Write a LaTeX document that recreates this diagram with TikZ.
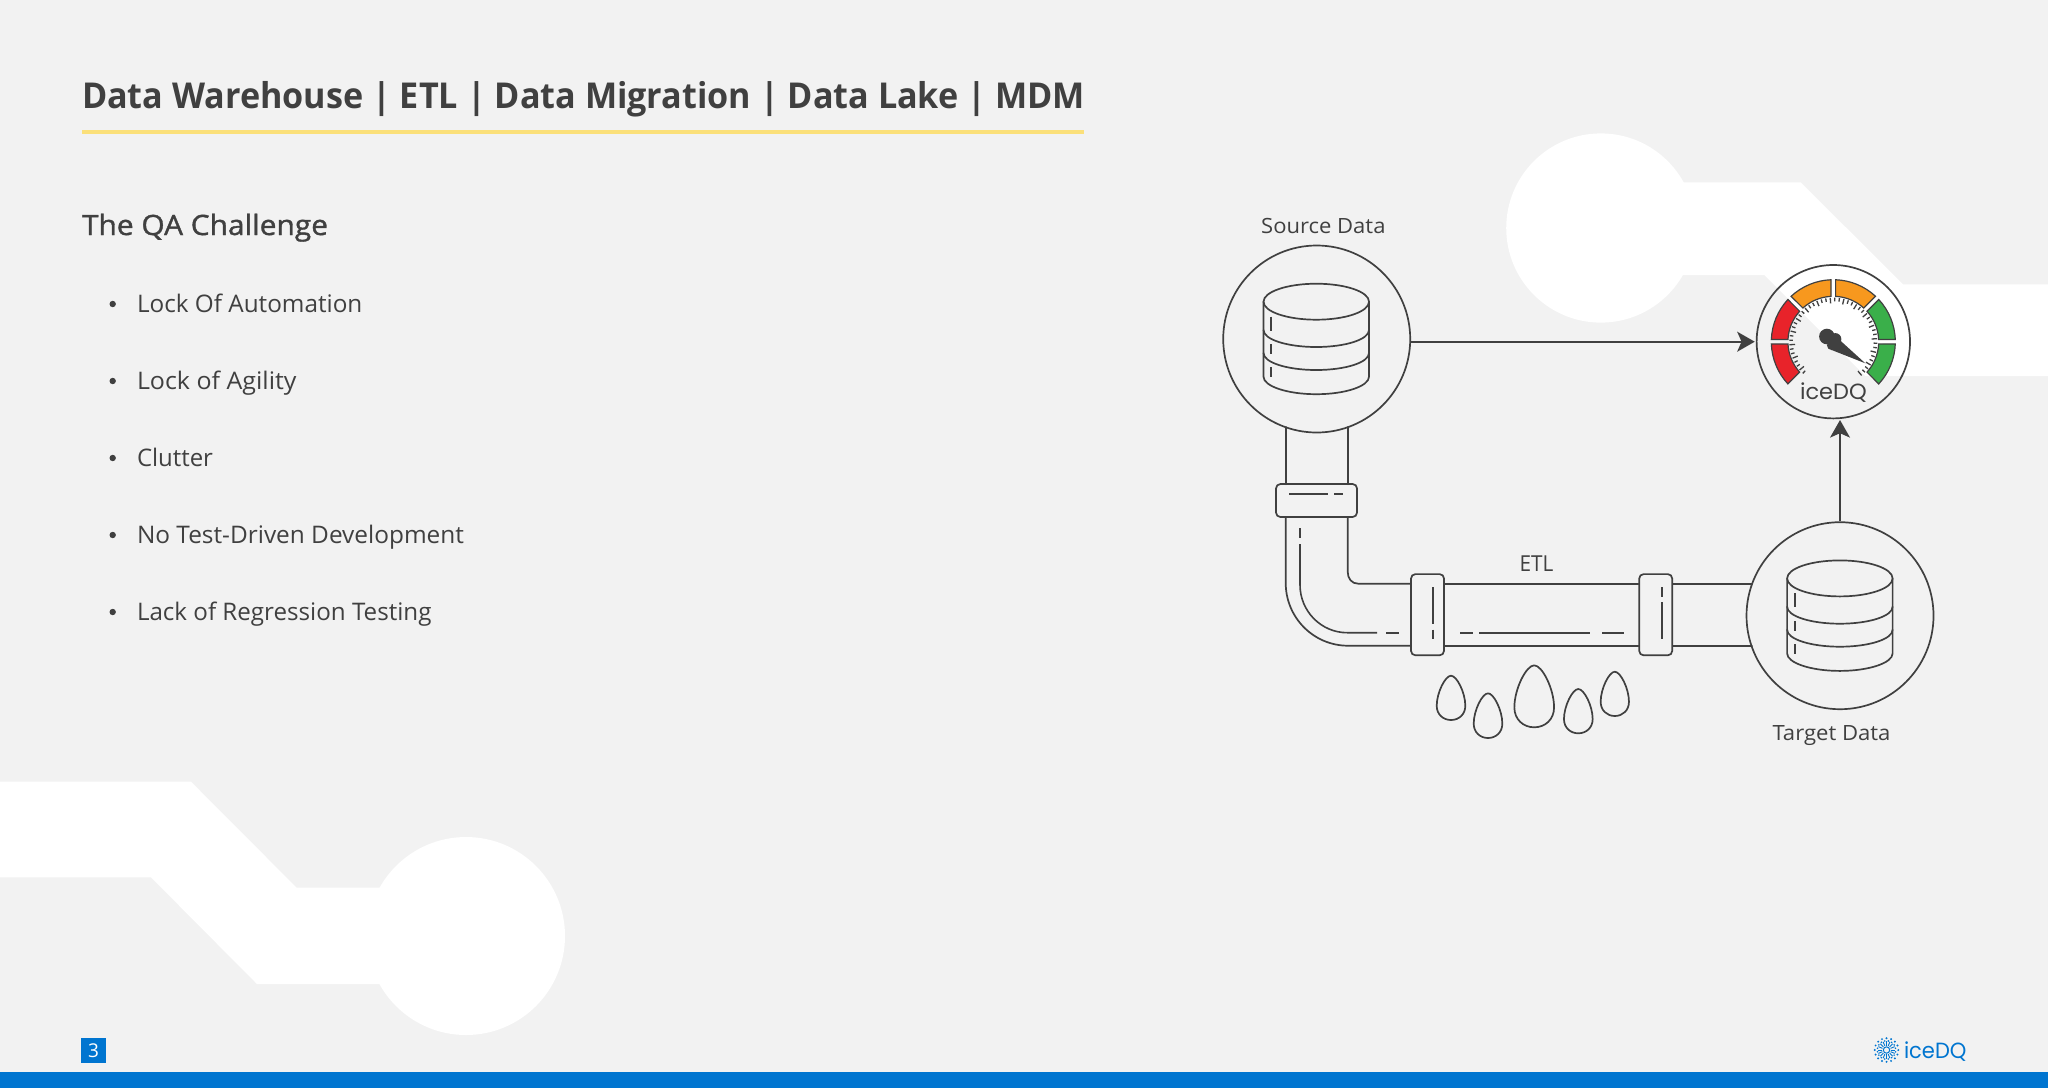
\documentclass[tikz,border=0pt]{standalone}
\usepackage{fontspec}
\usepackage{graphicx}
\usetikzlibrary{arrows.meta,calc}
\setmainfont{Open Sans}
\newfontfamily\logofont{Poppins}
\newfontfamily\semifont[FakeBold=1.2]{Open Sans}
\definecolor{pagebg}{HTML}{F2F2F2}
\definecolor{ink}{HTML}{404040}
\definecolor{brandblue}{HTML}{0075D0}
\definecolor{rule}{HTML}{FBE07A}
\definecolor{gred}{HTML}{E8232A}
\definecolor{gorange}{HTML}{F7981E}
\definecolor{ggreen}{HTML}{3AAF4A}
% exact width in px (1px = 0.5pt), natural height
\newcommand{\fitw}[2]{\resizebox{\dimexpr #1pt/2\relax}{\height}{#2}}
\newcommand{\sizedtext}[2]{\fontsize{#1}{#1}\selectfont #2}
\tikzset{
  x=0.5pt,y=-0.5pt,
  txt/.style={anchor=base west,inner sep=0pt,outer sep=0pt,text=ink},
  ln/.style={draw=ink,line width=0.85pt,line cap=round,line join=round},
  thin dash/.style={draw=ink,line width=0.8pt},
  ring/.style={circle,draw=ink,line width=0.85pt,inner sep=0pt,minimum size=93.5pt},
  coupling/.style={rectangle,draw=ink,line width=0.85pt,rounded corners=2.2pt,inner sep=0pt},
  conn/.style={draw=ink,line width=0.85pt,-{Stealth[length=8.8pt,width=10pt,inset=2.2pt]}},
  seg/.style={draw=ink,line width=0.6pt,line join=miter},
  tick/.style={draw=ink,line width=0.65pt}
}
\newcommand{\halfarc}[1]{(-52.75,#1) .. controls (-52.75,#1+9.5) and (-29,#1+17) .. (0,#1+17) .. controls (29,#1+17) and (52.75,#1+9.5) .. (52.75,#1)}
\newcommand{\dbicon}[2]{%
  \begin{scope}[shift={(#1,#2)}]
    \draw[ln] (0,-37.3) ellipse [x radius=52.75,y radius=18];
    \draw[ln] (-52.75,-37.3) -- (-52.75,37.7) .. controls (-52.75,47.2) and (-29,55.2) .. (0,55.2) .. controls (29,55.2) and (52.75,47.2) .. (52.75,37.7) -- (52.75,-37.3);
    \draw[ln] \halfarc{-9};
    \draw[ln] \halfarc{14};
    \draw[thin dash] (-45,-22.3) -- (-45,-8.3) (-45,5.3) -- (-45,15) (-45,28.3) -- (-45,38.3);
  \end{scope}}
\newcommand{\dropshape}[4]{% cx, top, w, h
  \begin{scope}[shift={(#1,#2)},xscale=#3,yscale=#4]
    \draw[ln] (0,0) .. controls (0.2,0) and (0.5,0.38) .. (0.5,0.68) .. controls (0.5,0.87) and (0.28,1) .. (0,1) .. controls (-0.28,1) and (-0.5,0.87) .. (-0.5,0.68) .. controls (-0.5,0.38) and (-0.2,0) .. (0,0) -- cycle;
  \end{scope}}
\newcommand{\gaugeseg}[3]{%
  \draw[seg,fill=#3] ({#1+2.1}:31pt) arc[start angle={#1+2.1},end angle={#2-2.1},radius=31pt] -- ({#2-2.9}:22.7pt) arc[start angle={#2-2.9},end angle={#1+2.9},radius=22.7pt] -- cycle;}
\begin{document}
\begin{tikzpicture}
\useasboundingbox (0,0) rectangle (2048,1088);
\fill[pagebg] (0,0) rectangle (2048,1088);
% background decoration
\fill[white] (466,936) circle [radius=49.5pt];
\fill[white] (0,781.7) -- (191,781.7) -- (296.6,887.7) -- (400,887.7) -- (400,984) -- (257,984) -- (151,877.3) -- (0,877.3) -- cycle;
\fill[white] (1600.8,228) circle [radius=47.3pt];
\fill[white] (1670,182.3) -- (1800.6,182.3) -- (1903,284.3) -- (2048,284.3) -- (2048,376) -- (1865.4,376) -- (1764.4,275) -- (1670,275) -- cycle;
% footer
\fill[brandblue] (0,1072) rectangle (2048,1088);
\node[fill=brandblue,inner sep=0pt,minimum width=12.4pt,minimum height=12.4pt,text=white] (pagenum) at (93.5,1050.5) {\sizedtext{9.5}{3}};
% heading
\node[txt] (title) at (82,108.3) {\fitw{1003}{\sizedtext{17.8}{\bfseries Data Warehouse | ETL | Data Migration | Data Lake | MDM}}};
\fill[rule] (82,130) rectangle (1084,133.5);
\node[txt] (sub) at (82,235) {\fitw{246}{\semifont\sizedtext{14}{The QA Challenge}}};
\foreach \n/\yy/\w/\t in {i1/312/225.4/Lock Of Automation,i2/389/159.5/Lock of Agility,i3/466/76/Clutter,i4/543/327/No Test-Driven Development,i5/620/294.5/Lack of Regression Testing}{
  \node[txt] (\n) at (137,\yy) {\fitw{\w}{\sizedtext{12.1}{\t}}};
  \fill[ink] (112.7,\yy-8) circle [radius=1.6pt];
}
% main nodes
\node[ring] (source) at (1316.7,339) {};
\node[ring] (target) at (1840,615.7) {};
\node[ring,minimum size=76.7pt] (gauge) at (1833.3,341.7) {};
\node[coupling,minimum width=40.5pt,minimum height=16.5pt] (c1) at (1316.5,500.5) {};
\node[coupling,minimum width=16.5pt,minimum height=40.6pt] (c2) at (1427.5,614.7) {};
\node[coupling,minimum width=16.5pt,minimum height=40.6pt] (c3) at (1655.7,614.7) {};
\dbicon{1316.25}{339}
\dbicon{1839.85}{615.7}
% labels
\node[txt] (lsource) at (1261.2,233) {\fitw{124.3}{\sizedtext{10.5}{Source Data}}};
\node[txt] (ltarget) at (1772.5,740.7) {\fitw{118}{\sizedtext{10.5}{Target Data}}};
\node[txt] (letl) at (1519.5,571) {\fitw{33.8}{\sizedtext{11}{ETL}}};
% pipe
\coordinate (ptop) at (0,583.7);
\coordinate (pbot) at (0,645.7);
\draw[ln] (1285.7,427) -- (1285.7,484.2);
\draw[ln] (1347.7,427) -- (1347.7,484.2);
\draw[ln] (1347.7,517) -- (1347.7,571.7) .. controls (1347.7,578.5) and (1351.5,583.7) .. (1358.3,583.7) -- (c2.west |- ptop);
\draw[ln] (1285.7,517) -- (1285.7,583) .. controls (1285.7,617.5) and (1313.5,645.7) .. (1348,645.7) -- (c2.west |- pbot);
\draw[ln] (c2.east |- ptop) -- (c3.west |- ptop);
\draw[ln] (c2.east |- pbot) -- (c3.west |- pbot);
\draw[ln] (c3.east |- ptop) -- (1752,583.7);
\draw[ln] (c3.east |- pbot) -- (1752,645.7);
% highlight dashes
\draw[thin dash] (1289.3,494) -- (1327.7,494) (1334,494) -- (1343,494);
\draw[thin dash] (1300,528) -- (1300,537.7);
\draw[thin dash] (1300,544) -- (1300,585) .. controls (1300,611) and (1321,632.7) .. (1347.3,632.7) -- (1377,632.7);
\draw[thin dash] (1386,632.7) -- (1399,632.7);
\draw[thin dash] (1433,587.3) -- (1433,624) (1433,629.7) -- (1433,639);
\draw[thin dash] (1460,632.7) -- (1473,632.7) (1479,632.7) -- (1590,632.7) (1602,632.7) -- (1624,632.7);
\draw[thin dash] (1662,587.3) -- (1662,596.7) (1662,602.3) -- (1662,638.7);
% drops
\dropshape{1451}{675.7}{28.6}{44.3}
\dropshape{1488}{693.3}{28.6}{44.7}
\dropshape{1534.2}{665.3}{39.7}{62}
\dropshape{1578.3}{689}{28.7}{44.3}
\dropshape{1614.8}{671.7}{28.3}{44.3}
% connectors
\draw[conn] (source.east |- gauge.west) -- ($(gauge.west)+(-1,0)$);
\draw[conn] (target.north) -- (target.north |- 0,420);
% gauge
\begin{scope}[shift={(1833.3,341.7)}]
  \gaugeseg{180}{225}{gred}
  \gaugeseg{135}{180}{gred}
  \gaugeseg{90}{135}{gorange}
  \gaugeseg{45}{90}{gorange}
  \gaugeseg{0}{45}{ggreen}
  \gaugeseg{-45}{0}{ggreen}
  \foreach \a [count=\i] in {-50,-44,...,230}{
    \pgfmathsetmacro{\rin}{mod(\i,3)==1 ? 19.2 : 20.2}
    \draw[tick] (\a:\rin pt) -- (\a:22pt);
  }
  \fill[ink] (-3.2pt,2.6pt) circle [radius=3.9pt];
  \fill[ink] (1pt,1.3pt) circle [radius=3pt];
  \fill[ink] (-0.8pt,-1.8pt) circle [radius=2.4pt];
  \fill[ink] (3pt,1pt) -- (16pt,-10.8pt) -- (-1.2pt,-4pt) -- cycle;
\end{scope}
\node[txt] (gtext) at (1800,399.3) {\fitw{66.7}{\logofont\sizedtext{11}{iceDQ}}};
% logo
\begin{scope}[shift={(1886.5,1050)},brandblue]
  \foreach \a in {0,22.5,...,337.5}{
    \draw[brandblue,line width=0.45pt] (\a:2.2pt) -- (\a:4.4pt);
    \fill[brandblue] (\a:5.9pt) circle [radius=0.55pt];
    \fill[brandblue] (\a+11:4.6pt) circle [radius=0.45pt];
  }
  \draw[brandblue,line width=0.5pt] (0pt,0pt) circle [radius=1.6pt];
\end{scope}
\node[txt,text=brandblue] (logo) at (1904,1058.3) {\fitw{62.5}{\logofont\sizedtext{11}{iceDQ}}};
\end{tikzpicture}
\end{document}
